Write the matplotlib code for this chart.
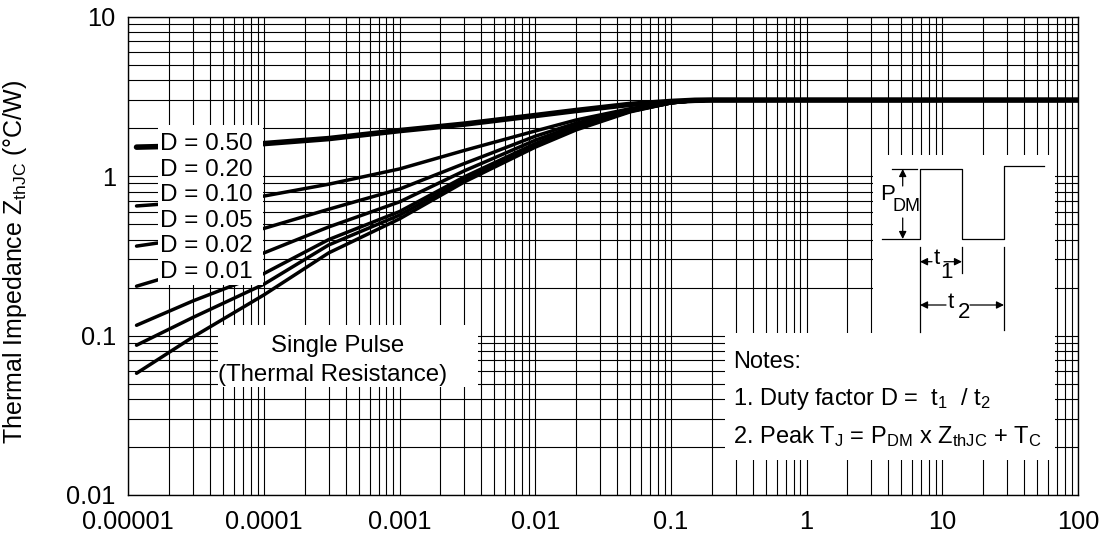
import matplotlib
matplotlib.use("Agg")
import matplotlib.pyplot as plt
from matplotlib.patches import Rectangle
from matplotlib.ticker import LogLocator, NullFormatter, FixedFormatter, FixedLocator

plt.rcParams["font.family"] = ["Liberation Sans", "DejaVu Sans"]
plt.rcParams["mathtext.fontset"] = "custom"
plt.rcParams["mathtext.rm"] = "Liberation Sans"
plt.rcParams["mathtext.it"] = "Liberation Sans"
plt.rcParams["mathtext.bf"] = "Liberation Sans:bold"

# pulse width (s)
t_pulse = [1.15e-5, 3e-5, 1e-4, 3e-4, 1e-3, 3e-3, 1e-2, 2e-2, 5e-2, 0.1, 0.15, 0.2, 100]

# Z_thJC (°C/W) per duty factor
z_d050 = [1.52, 1.55, 1.60, 1.72, 1.93, 2.12, 2.40, 2.58, 2.82, 2.94, 2.99, 3.0, 3.0]
z_d020 = [0.65, 0.69, 0.75, 0.89, 1.11, 1.45, 1.92, 2.25, 2.65, 2.90, 2.98, 3.0, 3.0]
z_d010 = [0.364, 0.41, 0.47, 0.62, 0.83, 1.20, 1.78, 2.15, 2.60, 2.89, 2.98, 3.0, 3.0]
z_d005 = [0.204, 0.26, 0.33, 0.48, 0.69, 1.08, 1.68, 2.08, 2.58, 2.88, 2.98, 3.0, 3.0]
z_d002 = [0.116, 0.165, 0.245, 0.40, 0.60, 0.99, 1.60, 2.02, 2.56, 2.88, 2.98, 3.0, 3.0]
z_d001 = [0.087, 0.13, 0.21, 0.37, 0.57, 0.95, 1.56, 1.99, 2.55, 2.88, 2.98, 3.0, 3.0]
z_single = [0.058, 0.098, 0.18, 0.33, 0.54, 0.92, 1.52, 1.95, 2.53, 2.88, 2.98, 3.0, 3.0]

curves = [z_d050, z_d020, z_d010, z_d005, z_d002, z_d001, z_single]
widths = [4.0, 2.5, 2.5, 2.5, 2.5, 2.5, 2.5]
duty_labels = ["D = 0.50", "D = 0.20", "D = 0.10", "D = 0.05", "D = 0.02", "D = 0.01"]

x_ticks = [1e-5, 1e-4, 1e-3, 1e-2, 1e-1, 1, 10, 100]
x_ticklabels = ["0.00001", "0.0001", "0.001", "0.01", "0.1", "1", "10", "100"]
y_ticks = [0.01, 0.1, 1, 10]
y_ticklabels = ["0.01", "0.1", "1", "10"]

W, H = 1106, 540
fig = plt.figure(figsize=(W / 100, H / 100), dpi=100)
ax_l, ax_t, ax_r, ax_b = 128.3, 16.7, 1078, 495
ax = fig.add_axes([ax_l / W, 1 - ax_b / H, (ax_r - ax_l) / W, (ax_b - ax_t) / H])


def P(px, py):
    # pixel position -> axes fraction
    return ((px - ax_l) / (ax_r - ax_l), (ax_b - py) / (ax_b - ax_t))


for z, lw in zip(curves, widths):
    ax.plot(t_pulse, z, color="black", lw=lw, solid_capstyle="round",
            solid_joinstyle="round", zorder=2)

ax.set_xscale("log")
ax.set_yscale("log")
ax.set_xlim(1e-5, 100)
ax.set_ylim(0.01, 10)
ax.xaxis.set_major_locator(FixedLocator(x_ticks))
ax.xaxis.set_major_formatter(FixedFormatter(x_ticklabels))
ax.yaxis.set_major_locator(FixedLocator(y_ticks))
ax.yaxis.set_major_formatter(FixedFormatter(y_ticklabels))
for axis in (ax.xaxis, ax.yaxis):
    axis.set_minor_locator(LogLocator(base=10, subs=range(2, 10), numticks=20))
    axis.set_minor_formatter(NullFormatter())
ax.tick_params(which="both", length=0, labelsize=18.3)
ax.tick_params(axis="x", pad=11)
ax.tick_params(axis="y", pad=9)
ax.grid(True, which="both", color="black", lw=0.8)
ax.set_axisbelow(True)
for s in ax.spines.values():
    s.set_linewidth(1.0)

# white boxes
boxes = [(158, 125, 263, 285), (218, 325, 478, 387), (873, 155, 1055, 333), (725, 333, 1055, 460)]
for x0, y0, x1, y1 in boxes:
    (a0, b1), (a1, b0) = P(x0, y0), P(x1, y1)
    ax.add_patch(Rectangle((a0, b0), a1 - a0, b1 - b0, transform=ax.transAxes,
                           facecolor="white", edgecolor="none", zorder=3))

# duty factor labels
for i, lab in enumerate(duty_labels):
    ax.text(*P(160, 150 + 25.5 * i), lab, transform=ax.transAxes, fontsize=17.5,
            va="baseline", ha="left", zorder=4)

ax.text(*P(338, 352), "Single Pulse", transform=ax.transAxes, fontsize=17.3,
        ha="center", va="baseline", zorder=4)
ax.text(*P(333, 381), "(Thermal Resistance)", transform=ax.transAxes, fontsize=17.3,
        ha="center", va="baseline", zorder=4)

# notes
notes = ["Notes:",
         r"1. Duty factor D =  t$_1$  / t$_2$",
         r"2. Peak T$_J$ = P$_{DM}$ x Z$_{thJC}$ + T$_C$"]
for i, n in enumerate(notes):
    ax.text(*P(733, 368 + 37.5 * i), n, transform=ax.transAxes, fontsize=17,
            ha="left", va="baseline", zorder=4)

# pulse waveform sketch
wave_x = [882, 920, 920, 962, 962, 1004, 1004, 1044]
wave_y = [239, 239, 169, 169, 239, 239, 166, 166]
pts = [P(x, y) for x, y in zip(wave_x, wave_y)]
ax.plot([p[0] for p in pts], [p[1] for p in pts], transform=ax.transAxes,
        color="black", lw=0.9, zorder=4, clip_on=False)


def seg(x0, y0, x1, y1):
    a, b = P(x0, y0), P(x1, y1)
    ax.plot([a[0], b[0]], [a[1], b[1]], transform=ax.transAxes, color="black",
            lw=0.9, zorder=4)


def arrow(x0, y0, x1, y1):
    ax.annotate("", xy=P(x1, y1), xytext=P(x0, y0), xycoords="axes fraction",
                textcoords="axes fraction", zorder=4,
                arrowprops=dict(arrowstyle="-|>", color="black", lw=0.9,
                                mutation_scale=11, shrinkA=0, shrinkB=0))


def label(px, py, s, size):
    ax.text(*P(px, py), s, transform=ax.transAxes, fontsize=size,
            ha="center", va="center", zorder=5)


seg(892, 169, 917, 169)
arrow(902.7, 186, 902.7, 169)
arrow(902.7, 218, 902.7, 239)
seg(920, 247, 920, 332)
seg(962, 247, 962, 273)
seg(1004, 247, 1004, 330)
arrow(932, 261.7, 920, 261.7)
arrow(944, 261.7, 962, 261.7)
arrow(946, 305, 920, 305)
arrow(970, 305, 1004, 305)
label(888, 194, "P", 16)
label(907, 206, "DM", 13)
label(937, 259, "t", 16)
label(947, 272, "1", 16)
label(951, 302, "t", 16)
label(964, 312, "2", 16)

# y label
ax.text(*P(15, 262), r"Thermal Impedance Z$_{thJC}$ ($\degree$C/W)", transform=ax.transAxes,
        fontsize=18, rotation=90, ha="center", va="center")

plt.savefig("out.png", dpi=100)
